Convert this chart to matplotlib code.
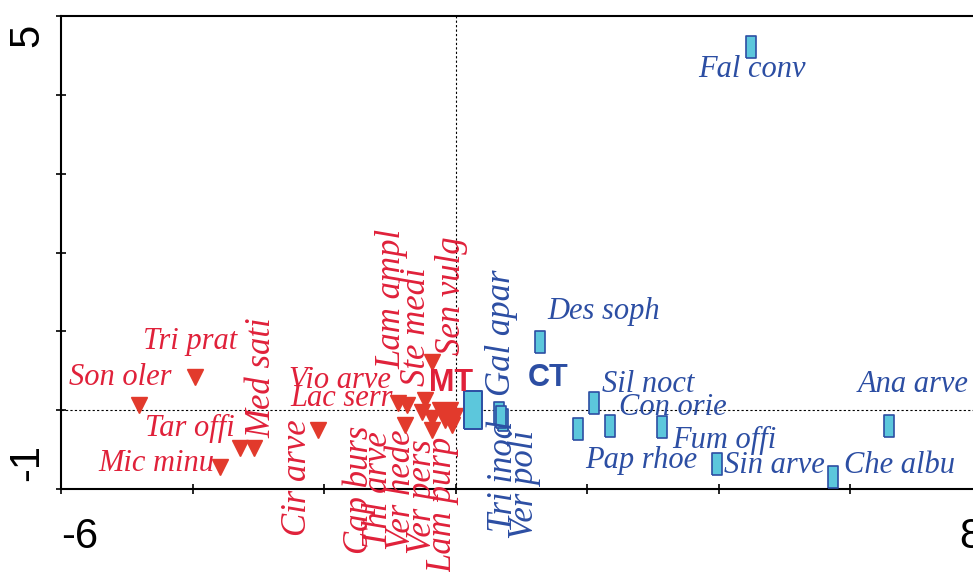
import matplotlib
matplotlib.use("Agg")
import matplotlib.pyplot as plt
import matplotlib.transforms as mtransforms

# species scores, MT group (red triangles)
mt_names = ["Tri prat", "Son oler", "Tar offi", "Med sati", "Mic minu", "Cir arve",
            "Vio arve", "Lac serr", "Lam ampl", "Ste medi", "Cap burs", "Thl arve",
            "Ver hede", "Ver pers", "Lam purp", "Sen vulg"]
mt_x = [-3.96, -4.81, -3.28, -3.07, -3.58, -2.09,
        -0.87, -0.74, -0.47, -0.36, -0.51, -0.36,
        -0.77, -0.36, -0.06, -0.01]
mt_y = [0.42, 0.07, -0.48, -0.48, -0.72, -0.25,
        0.09, 0.07, 0.13, 0.61, -0.02, -0.10,
        -0.19, -0.25, -0.19, -0.07]
# label centres and rotation
mt_lx = [-4.04, -5.10, -4.04, -2.94, -4.55, -2.40,
         -1.76, -1.74, -0.97, -0.60, -1.46, -1.18,
         -0.82, -0.51, -0.19, -0.07]
mt_ly = [0.87, 0.41, -0.23, 0.41, -0.68, -0.86,
         0.37, 0.15, 1.41, 1.06, -1.01, -1.01,
         -1.01, -1.10, -1.20, 1.45]
mt_rot = [0, 0, 0, 90, 0, 90,
          0, 0, 90, 90, 90, 90,
          90, 90, 90, 90]

# species scores, CT group (blue rectangles)
ct_names = ["Fal conv", "Des soph", "Gal apar", "Tri inod", "Ver poli", "Sil noct",
            "Pap rhoe", "Con orie", "Fum offi", "Sin arve", "Che albu", "Ana arve"]
ct_x = [4.49, 1.28, 0.66, 0.72, 0.69, 2.10, 1.86, 2.35, 3.14, 3.97, 5.73, 6.58]
ct_y = [4.61, 0.87, -0.04, -0.12, -0.09, 0.09, -0.24, -0.20, -0.21, -0.68, -0.85, -0.20]
ct_lx = [4.50, 2.25, 0.70, 0.72, 1.05, 2.92, 2.82, 3.30, 4.08, 4.85, 6.74, 6.95]
ct_ly = [4.32, 1.25, 0.98, -0.84, -0.94, 0.32, -0.64, 0.03, -0.38, -0.70, -0.70, 0.33]
ct_rot = [0, 0, 90, 90, 90, 0, 0, 0, 0, 0, 0, 0]

# group centroids
centroid_names = ["MT", "CT"]
centroid_x = [-0.16, 0.26]
centroid_y = [-0.06, 0.0]
centroid_lx = [-0.07, 1.40]
centroid_ly = [0.35, 0.41]

red_txt = "#e0213a"
red_mk = "#e23a2c"
blue_txt = "#2c4ea3"
cyan = "#5cc7dc"
rect = [(-0.23, -0.5), (0.23, -0.5), (0.23, 0.5), (-0.23, 0.5), (-0.23, -0.5)]

fig = plt.figure(figsize=(9.73, 5.72), dpi=100)
ax = fig.add_axes([61 / 973, 1 - 489 / 572, 921 / 973, 473 / 572])
ax.set_xlim(-6, 8)
ax.set_ylim(-1, 5)

ax.axvline(0, color="black", lw=0.8, ls=(0, (2, 2)), zorder=1)
ax.axhline(0, color="black", lw=0.8, ls=(0, (2, 2)), zorder=1)

ax.plot(mt_x, mt_y, ls="none", marker="v", ms=11, color=red_mk, mec=red_mk, zorder=3)
ax.plot(ct_x, ct_y, ls="none", marker=rect, ms=15.5, mfc=cyan, mec=blue_txt, mew=1.2, zorder=3)
ax.plot(centroid_x[0], centroid_y[0], ls="none", marker="v", ms=19, color=red_mk, zorder=4)
ax.plot(centroid_x[1], centroid_y[1], ls="none", marker=rect, ms=27, mfc=cyan, mec=blue_txt,
        mew=1.4, zorder=4)

serif = "Liberation Serif"
for n, lx, ly, r in zip(mt_names, mt_lx, mt_ly, mt_rot):
    ax.text(lx, ly, n, color=red_txt, family=serif, style="italic",
            fontsize=25 if r else 22, rotation=r, ha="center", va="center", zorder=5)
for n, lx, ly, r in zip(ct_names, ct_lx, ct_ly, ct_rot):
    ax.text(lx, ly, n, color=blue_txt, family=serif, style="italic",
            fontsize=25 if r else 22, rotation=r, ha="center", va="center", zorder=5)
for n, lx, ly, c in zip(centroid_names, centroid_lx, centroid_ly, [red_txt, blue_txt]):
    ax.text(lx, ly, n, color=c, family="Liberation Sans", weight="bold",
            fontsize=22, ha="center", va="center", zorder=5)

# axes, ticks and end labels
for s in ax.spines.values():
    s.set_linewidth(1.5)
ax.set_xticks(range(-6, 9, 2))
ax.set_yticks(range(-1, 6))
ax.tick_params(direction="inout", length=7, width=1.2, labelbottom=False, labelleft=False)

bx = mtransforms.blended_transform_factory(ax.transData, fig.transFigure)
by = mtransforms.blended_transform_factory(fig.transFigure, ax.transData)
tick_font = dict(family="Liberation Sans", fontsize=30, color="black")
ax.text(-6, 1 - 537 / 572, "-6", transform=bx, ha="left", va="center", **tick_font)
ax.text(8, 1 - 537 / 572, "8", transform=bx, ha="right", va="center", **tick_font)
ax.text(27 / 973, 4.9, "5", transform=by, rotation=90, ha="center", va="top", **tick_font)
ax.text(27 / 973, -0.9, "-1", transform=by, rotation=90, ha="center", va="bottom", **tick_font)

fig.savefig("out.png", dpi=100)
